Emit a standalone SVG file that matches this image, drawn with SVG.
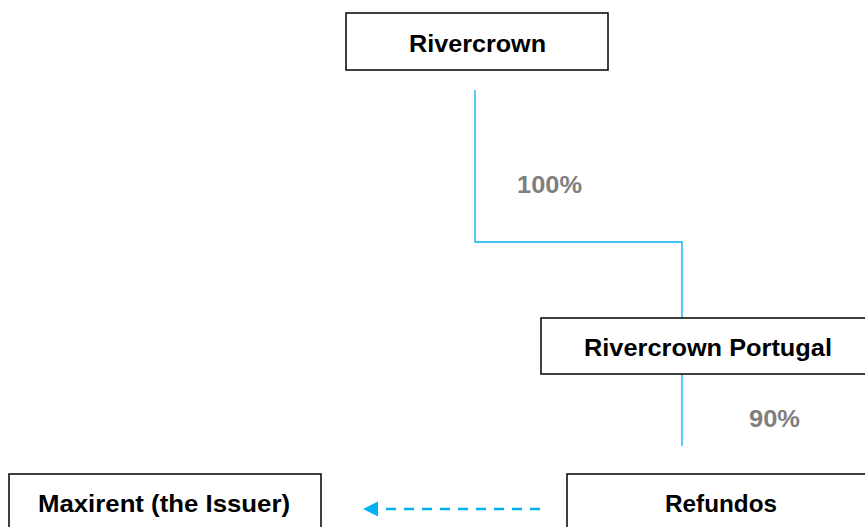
<svg xmlns="http://www.w3.org/2000/svg" width="865" height="527" viewBox="0 0 865 527">
<style>
.box{fill:#fff;stroke:#000;stroke-width:1.5}
.lbl{font-family:"Liberation Sans",Arial,sans-serif;font-weight:bold;font-size:24px;fill:#000;text-anchor:middle}
.pct{font-family:"Liberation Sans",Arial,sans-serif;font-weight:bold;font-size:24px;fill:#7f7f7f}
.ln{fill:none;stroke:#00b0f0;stroke-width:1.3}
.dash{fill:none;stroke:#00b0f0;stroke-width:2.5;stroke-dasharray:10 8}
</style>
<g id="connectors">
<path class="ln" d="M475,90 V242 H682 V318"/>
<path class="ln" d="M682,374 V446"/>
<line class="dash" x1="540" y1="509" x2="378" y2="509"/>
<path d="M363,509 L378,501.5 L378,516.5 Z" fill="#00b0f0"/>
<text class="pct" x="517" y="193" textLength="65" lengthAdjust="spacingAndGlyphs">100%</text>
<text class="pct" x="749" y="427" textLength="51" lengthAdjust="spacingAndGlyphs">90%</text>
</g>
<g id="rivercrown">
<rect class="box" x="346" y="13" width="262" height="57"/>
<text class="lbl" x="477.5" y="52" textLength="137" lengthAdjust="spacingAndGlyphs">Rivercrown</text>
</g>
<g id="rivercrown-portugal">
<rect class="box" x="541" y="318" width="330" height="56"/>
<text class="lbl" x="708" y="356" textLength="248" lengthAdjust="spacingAndGlyphs">Rivercrown Portugal</text>
</g>
<g id="refundos">
<rect class="box" x="567" y="474" width="310" height="70"/>
<text class="lbl" x="721" y="512" textLength="112" lengthAdjust="spacingAndGlyphs">Refundos</text>
</g>
<g id="maxirent">
<rect class="box" x="9" y="474" width="312" height="70"/>
<text class="lbl" x="164" y="512" textLength="252" lengthAdjust="spacingAndGlyphs">Maxirent (the Issuer)</text>
</g>
</svg>
